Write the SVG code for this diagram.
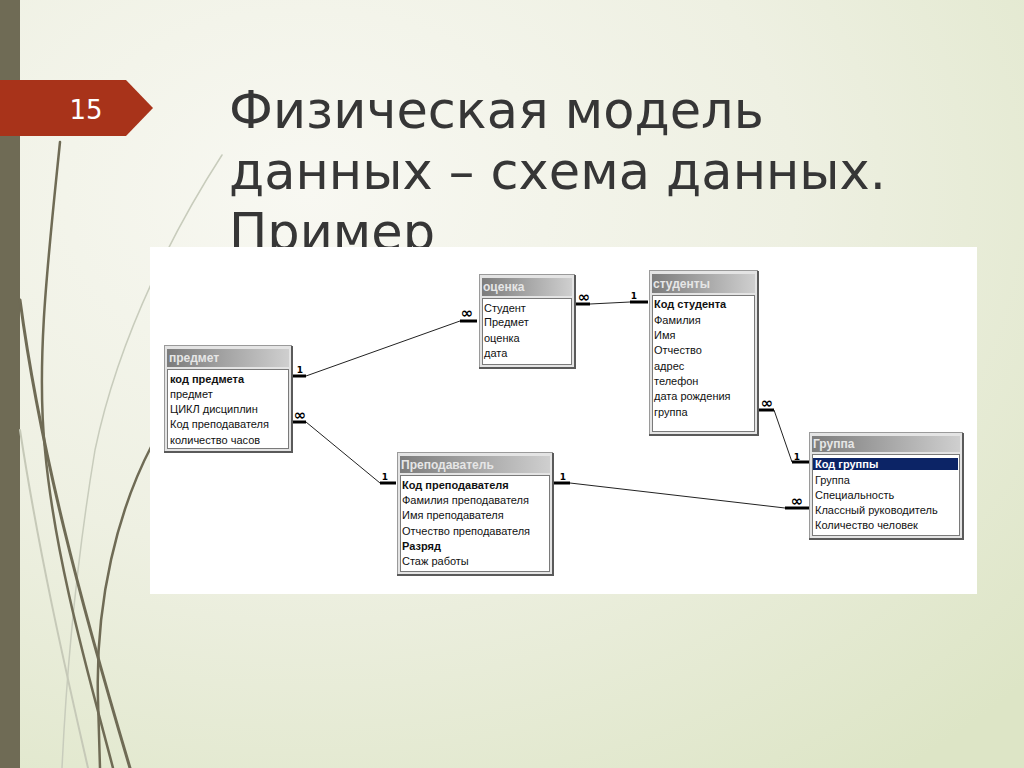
<svg xmlns="http://www.w3.org/2000/svg" width="1024" height="768" viewBox="0 0 1024 768">
<defs>
<radialGradient id="bg" cx="0.3" cy="0.25" r="0.95">
<stop offset="0" stop-color="#f8f8f2"/>
<stop offset="0.5" stop-color="#eef0e2"/>
<stop offset="1" stop-color="#dde5c6"/>
</radialGradient>
<linearGradient id="tb" x1="0" y1="0" x2="1" y2="0">
<stop offset="0" stop-color="#7c7c7c"/>
<stop offset="1" stop-color="#cfcfcf"/>
</linearGradient>
<style>
.frame{fill:#e4e4e4;stroke:#9a9a9a;stroke-width:1}
.shadow{fill:none;stroke:#5a5a5a;stroke-width:2}
.tbar{fill:url(#tb)}
.ttl{font-family:"Liberation Sans",Arial,sans-serif;font-size:12px;font-weight:bold;fill:#e6e6e6}
.list{fill:#ffffff;stroke:#7a7a7a;stroke-width:1}
.row{font-family:"Liberation Sans",Arial,sans-serif;font-size:11px;fill:#111}
.b{font-weight:bold}
.stub{stroke:#000;stroke-width:3;fill:none}
.ln{stroke:#222;stroke-width:1;fill:none}
.one{font-family:"DejaVu Sans",sans-serif;font-size:9px;font-weight:bold;fill:#000;text-anchor:middle}
.inf{font-family:"DejaVu Sans",sans-serif;font-size:15px;font-weight:bold;fill:#000;text-anchor:middle}
.title{font-family:"DejaVu Sans",sans-serif;font-size:51px;fill:#363636}
.deco{fill:none;stroke-linecap:round}
</style>
</defs>
<rect x="0" y="0" width="1024" height="768" fill="url(#bg)"/>
<rect x="0" y="0" width="20" height="768" fill="#6f6b55"/>
<g id="decor">
<path class="deco" d="M222,155 C180,220 120,330 95,450 C80,540 68,640 62,768" stroke="#c8ccbc" stroke-width="1.5"/>
<path class="deco" d="M20,430 C40,560 68,680 88,768" stroke="#c6c9b8" stroke-width="2"/>
<path class="deco" d="M60,142 C48,260 36,360 45,450 C55,560 90,680 113,768" stroke="#6f6b55" stroke-width="2.5"/>
<path class="deco" d="M20,300 C40,450 80,600 130,768" stroke="#6f6b55" stroke-width="3"/>
<path class="deco" d="M152,445 C118,510 95,600 98,700 L100,768" stroke="#6f6b55" stroke-width="2.5"/>
</g>
<g id="slide-number">
<path d="M0,80 L126,80 L153,108 L126,136 L0,136 Z" fill="#a8331a"/>
<text x="86" y="119" font-family="DejaVu Sans,sans-serif" font-size="26" fill="#ffffff" text-anchor="middle">15</text>
</g>
<g id="title">
<text class="title" x="229" y="128">Физическая модель</text>
<text class="title" x="229" y="189">данных – схема данных.</text>
<text class="title" x="229" y="250">Пример</text>
</g>
<rect id="panel" x="150" y="247" width="827" height="347" fill="#ffffff"/>
<g id="connectors">
<path class="stub" d="M291,376 H306"/><path class="ln" d="M306,376 L460,321"/><path class="stub" d="M460,321 H477"/>
<path class="stub" d="M292,422 H306"/><path class="ln" d="M306,422 L380,483"/><path class="stub" d="M380,483 H396"/>
<path class="stub" d="M575,304 H590"/><path class="ln" d="M590,304 L630,302"/><path class="stub" d="M630,302 H648"/>
<path class="stub" d="M758,410 H774"/><path class="ln" d="M774,410 L792,462"/><path class="stub" d="M792,462 H809"/>
<path class="stub" d="M553,483 H570"/><path class="ln" d="M570,483 L785,508"/><path class="stub" d="M785,508 H809"/>
<text class="one" x="300" y="373">1</text>
<text class="inf" x="300" y="420">∞</text>
<text class="inf" x="467" y="318">∞</text>
<text class="inf" x="584" y="302">∞</text>
<text class="one" x="634" y="299">1</text>
<text class="inf" x="767" y="408">∞</text>
<text class="one" x="797" y="460">1</text>
<text class="inf" x="797" y="506">∞</text>
<text class="one" x="385" y="480">1</text>
<text class="one" x="563" y="480">1</text>
</g>
<g id="predmet">
<rect class="frame" x="164.5" y="345.5" width="127" height="106"/>
<path class="shadow" d="M292,346 V452 H164"/>
<rect class="tbar" x="167" y="349" width="122" height="18"/>
<text class="ttl" x="169" y="362">предмет</text>
<rect class="list" x="167.5" y="369.5" width="121" height="79"/>
<text class="row b" x="170" y="383">код предмета</text>
<text class="row" x="170" y="398">предмет</text>
<text class="row" x="170" y="413">ЦИКЛ дисциплин</text>
<text class="row" x="170" y="428">Код преподавателя</text>
<text class="row" x="170" y="444">количество часов</text>
</g>
<g id="ocenka">
<rect class="frame" x="479.5" y="274.5" width="95" height="93"/>
<path class="shadow" d="M575,275 V368 H479"/>
<rect class="tbar" x="482" y="278" width="90" height="18"/>
<text class="ttl" x="483" y="291">оценка</text>
<rect class="list" x="482.5" y="298.5" width="89" height="66"/>
<text class="row" x="484" y="312">Студент</text>
<text class="row" x="484" y="326">Предмет</text>
<text class="row" x="484" y="342">оценка</text>
<text class="row" x="484" y="357">дата</text>
</g>
<g id="studenty">
<rect class="frame" x="649.5" y="270.5" width="108" height="164"/>
<path class="shadow" d="M758,271 V435 H649"/>
<rect class="tbar" x="652" y="274" width="103" height="19"/>
<text class="ttl" x="653" y="288">студенты</text>
<rect class="list" x="652.5" y="295.5" width="102" height="136"/>
<text class="row b" x="654" y="308">Код студента</text>
<text class="row" x="654" y="324">Фамилия</text>
<text class="row" x="654" y="339">Имя</text>
<text class="row" x="654" y="354">Отчество</text>
<text class="row" x="654" y="370">адрес</text>
<text class="row" x="654" y="385">телефон</text>
<text class="row" x="654" y="400">дата рождения</text>
<text class="row" x="654" y="416">группа</text>
</g>
<g id="gruppa">
<rect class="frame" x="809.5" y="432.5" width="153" height="106"/>
<path class="shadow" d="M963,433 V539 H809"/>
<rect class="tbar" x="812" y="436" width="148" height="16"/>
<text class="ttl" x="813" y="448">Группа</text>
<rect class="list" x="812.5" y="454.5" width="147" height="81"/>
<rect x="813" y="458" width="145" height="12" fill="#0c2466"/>
<text class="row b" x="815" y="468" style="fill:#ffffff">Код группы</text>
<text class="row" x="815" y="484">Группа</text>
<text class="row" x="815" y="499">Специальность</text>
<text class="row" x="815" y="514">Классный руководитель</text>
<text class="row" x="815" y="529">Количество человек</text>
</g>
<g id="prepodavatel">
<rect class="frame" x="397.5" y="452.5" width="155" height="122"/>
<path class="shadow" d="M553,453 V575 H397"/>
<rect class="tbar" x="400" y="456" width="150" height="17"/>
<text class="ttl" x="401" y="469">Преподаватель</text>
<rect class="list" x="400.5" y="475.5" width="149" height="96"/>
<text class="row b" x="402" y="489">Код преподавателя</text>
<text class="row" x="402" y="504">Фамилия преподавателя</text>
<text class="row" x="402" y="519">Имя преподавателя</text>
<text class="row" x="402" y="535">Отчество преподавателя</text>
<text class="row b" x="402" y="550">Разряд</text>
<text class="row" x="402" y="565">Стаж работы</text>
</g>
</svg>
